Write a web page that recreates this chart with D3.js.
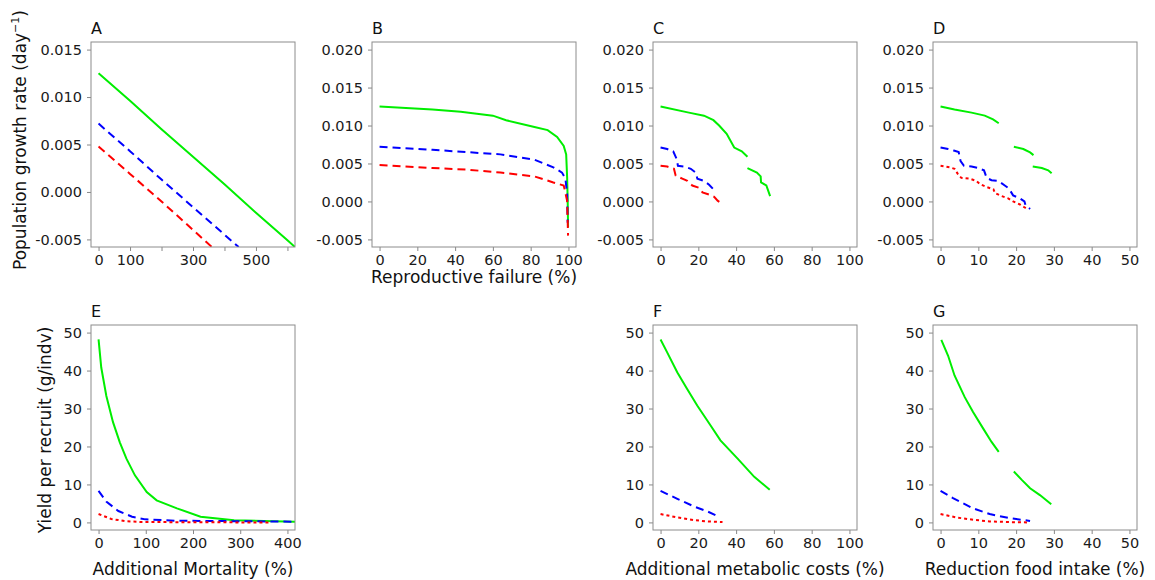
<!DOCTYPE html>
<html>
<head>
<meta charset="utf-8">
<script src="https://cdn.jsdelivr.net/npm/d3@7"></script>
<style>
  body { margin: 0; background: #fff; }
  svg text { font-family: "DejaVu Sans", Verdana, sans-serif; }
</style>
</head>
<body>
<div id="chart"></div>
<script>
// ---- data ----
// A: population growth rate vs additional mortality
const aGreenX = [0, 100, 200, 300, 400, 500, 600, 624];
const aGreenY = [0.0125, 0.0096, 0.0066, 0.0037, 0.0008, -0.0022, -0.0051, -0.0058];
const aBlueX = [0, 100, 200, 300, 400, 445];
const aBlueY = [0.0072, 0.0043, 0.0013, -0.0016, -0.0045, -0.0058];
const aRedX = [0, 100, 200, 300, 360];
const aRedY = [0.0048, 0.0019, -0.0010, -0.0040, -0.0058];

// B: reproductive failure
const bGreenX = [0, 28, 43, 60, 67, 82, 89, 94, 97.5, 98.8, 99.3, 99.6, 99.8];
const bGreenY = [0.0125, 0.0121, 0.0118, 0.0113, 0.0107, 0.0098, 0.0094, 0.0085, 0.0073, 0.0062, 0.0032, 0.0001, -0.0034];
const bBlueX = [0, 28, 46, 64, 82, 92, 96.6, 98.4, 99.3, 99.6];
const bBlueY = [0.0072, 0.0068, 0.0065, 0.0062, 0.0055, 0.0045, 0.0038, 0.0030, 0.0010, -0.0028];
const bRedX = [0, 28, 46, 64, 82, 92, 97.5, 99.3, 99.8];
const bRedY = [0.0048, 0.0044, 0.0042, 0.0038, 0.0033, 0.0025, 0.0021, 0.0001, -0.0045];

// C: additional metabolic costs (null = break in the line)
const cGreenX = [0, 15, 23, 28, 31, 35, 39, 43, 46, 46, 46, 51, 53, 53.2, 56, 58];
const cGreenY = [0.0125, 0.0117, 0.0113, 0.0107, 0.0100, 0.0089, 0.0071, 0.0066, 0.0059, null, 0.0044, 0.0038, 0.0033, 0.0025, 0.0021, 0.0007];
const cBlueX = [0, 3.5, 6.7, 8.5, 9.2, 12.4, 16, 18.6, 19.5, 23, 25.7, 28];
const cBlueY = [0.0071, 0.0069, 0.0066, 0.0056, 0.0047, 0.0046, 0.0043, 0.0038, 0.0030, 0.0027, 0.0022, 0.0016];
const cRedX = [0, 3.5, 7.1, 8, 11.5, 14.2, 16.8, 20.4, 22.2, 25.7, 28.4, 30.2, 33.3];
const cRedY = [0.0047, 0.0046, 0.0043, 0.0034, 0.0030, 0.0027, 0.0021, 0.0018, 0.0012, 0.0009, 0.0006, 0.0001, -0.0004];

// D: reduction food intake
const dGreenX = [0, 3.7, 8.2, 11.7, 13.9, 15.4, 17, 19.4, 21.9, 23.7, 24.6, 24.5, 24.4, 26.8, 28.5, 29.4];
const dGreenY = [0.0125, 0.0121, 0.0117, 0.0113, 0.0108, 0.0103, null, 0.0072, 0.0069, 0.00645, 0.0061, null, 0.0046, 0.0044, 0.0041, 0.0037];
const dBlueX = [0, 2, 3.5, 4.8, 5.3, 6.2, 8.2, 9.9, 11.5, 12.2, 13.5, 15.3, 17, 18.1, 19.2, 21, 22.2, 22.5, 23.7];
const dBlueY = [0.0071, 0.0069, 0.0067, 0.0065, 0.0053, 0.0047, 0.0046, 0.0044, 0.0041, 0.0031, 0.0028, 0.0027, 0.0021, 0.0017, 0.0008, 0.0004, 0.0000, -0.0005, -0.0010];
const dRedX = [0, 2.4, 3.7, 4.6, 5.5, 7.7, 9.5, 10.4, 12.2, 14, 14.4, 16.2, 17.9, 19.2, 21, 22.3, 23.2];
const dRedY = [0.0047, 0.0045, 0.0043, 0.0036, 0.0031, 0.0030, 0.0027, 0.0023, 0.0019, 0.0016, 0.0011, 0.0007, 0.0004, 0.0000, -0.0004, -0.0008, -0.0011];

// E: yield per recruit vs additional mortality
const eGreenX = [0, 5.7, 16.5, 30.6, 45, 59, 77, 102, 123, 166, 216, 287, 416];
const eGreenY = [48.2, 40.8, 33.3, 26.4, 21.1, 16.8, 12.4, 8.0, 5.8, 3.7, 1.5, 0.6, 0.2];
const eBlueX = [0, 17, 42, 71, 99, 163, 413];
const eBlueY = [8.3, 5.4, 3.0, 1.5, 0.8, 0.45, 0.2];
const eRedX = [0, 27, 56, 92, 306, 360];
const eRedY = [2.2, 0.9, 0.35, 0.1, 0.0, 0.0];

// F: yield vs additional metabolic costs
const fGreenX = [0, 3.5, 8.9, 14, 19.4, 26.4, 31.7, 40.8, 49.6, 57.8];
const fGreenY = [48.2, 44.8, 39.5, 35.2, 30.8, 25.6, 21.6, 16.8, 12.0, 8.6];
const fBlueX = [0, 8.9, 17.7, 24.8, 30];
const fBlueY = [8.3, 6.2, 4.2, 2.9, 1.7];
const fRedX = [0, 8.9, 17.7, 24.8, 32.8];
const fRedY = [2.2, 1.3, 0.6, 0.26, 0.08];

// G: yield vs reduction food intake
const gGreenX = [0.2, 2, 3.7, 6.4, 8.6, 11.3, 13.5, 15.4, 17, 19.4, 21.5, 23.7, 26.3, 29.3];
const gGreenY = [48.1, 43.9, 38.7, 33.0, 29.1, 24.7, 21.2, 18.6, null, 13.4, 11.2, 9.0, 7.2, 4.8];
const gBlueX = [0, 3.3, 8.6, 13, 18.4, 23.7];
const gBlueY = [8.3, 6.4, 3.7, 2.2, 1.1, 0.4];
const gRedX = [0, 4.2, 8.6, 13, 18.4, 23.2];
const gRedY = [2.2, 1.3, 0.7, 0.26, 0.08, 0.0];

// tick values
const ticksMort = [0, 100, 200, 300, 400, 500, 600];
const ticksMortLabelled = [0, 100, 300, 500];
const ticksPct100 = [0, 20, 40, 60, 80, 100];
const ticksPct50 = [0, 10, 20, 30, 40, 50];
const ticksYield = [0, 10, 20, 30, 40, 50];
const ticksRateA = [-0.005, 0, 0.005, 0.010, 0.015];
const ticksRate = [-0.005, 0, 0.005, 0.010, 0.015, 0.020];

// ---- layout ----
const width = 1155, height = 580;
const PW = 204, PH = 205;
const colLeft = [91, 372, 653, 933];
const rowTop = [42, 325];

const GREEN = "#00ee00", BLUE = "#0000ff", RED = "#ff0000";
const DASH = "8,5", DOT = "3,3";

const svg = d3.select("#chart").append("svg")
  .attr("width", width).attr("height", height);

const zip = (xs, ys) => xs.map((x, i) => [x, ys[i]]);
const fmt3 = d => d.toFixed(3);
const fmt0 = d => String(d);

const panels = [
  { id: "A", left: colLeft[0], top: rowTop[0], xd: [-24, 624], yd: [-0.0058, 0.0158],
    xt: ticksMort, xf: d => ticksMortLabelled.includes(d) ? d : "", yt: ticksRateA, yf: fmt3,
    series: [[aGreenX, aGreenY, GREEN, null], [aBlueX, aBlueY, BLUE, DASH], [aRedX, aRedY, RED, DASH]] },
  { id: "B", left: colLeft[1], top: rowTop[0], xd: [-4, 104], yd: [-0.006, 0.021],
    xt: ticksPct100, xf: fmt0, yt: ticksRate, yf: fmt3,
    series: [[bGreenX, bGreenY, GREEN, null], [bBlueX, bBlueY, BLUE, DASH], [bRedX, bRedY, RED, DASH]] },
  { id: "C", left: colLeft[2], top: rowTop[0], xd: [-4, 104], yd: [-0.006, 0.021],
    xt: ticksPct100, xf: fmt0, yt: ticksRate, yf: fmt3,
    series: [[cGreenX, cGreenY, GREEN, null], [cBlueX, cBlueY, BLUE, DASH], [cRedX, cRedY, RED, DASH]] },
  { id: "D", left: colLeft[3], top: rowTop[0], xd: [-2, 52], yd: [-0.006, 0.021],
    xt: ticksPct50, xf: fmt0, yt: ticksRate, yf: fmt3,
    series: [[dGreenX, dGreenY, GREEN, null], [dBlueX, dBlueY, BLUE, DASH], [dRedX, dRedY, RED, DOT]] },
  { id: "E", left: colLeft[0], top: rowTop[1], xd: [-16, 416], yd: [-2, 52],
    xt: [0, 100, 200, 300, 400], xf: fmt0, yt: ticksYield, yf: fmt0,
    series: [[eGreenX, eGreenY, GREEN, null], [eBlueX, eBlueY, BLUE, DASH], [eRedX, eRedY, RED, DOT]] },
  { id: "F", left: colLeft[2], top: rowTop[1], xd: [-4, 104], yd: [-2, 52],
    xt: ticksPct100, xf: fmt0, yt: ticksYield, yf: fmt0,
    series: [[fGreenX, fGreenY, GREEN, null], [fBlueX, fBlueY, BLUE, DASH], [fRedX, fRedY, RED, DOT]] },
  { id: "G", left: colLeft[3], top: rowTop[1], xd: [-2, 52], yd: [-2, 52],
    xt: ticksPct50, xf: fmt0, yt: ticksYield, yf: fmt0,
    series: [[gGreenX, gGreenY, GREEN, null], [gBlueX, gBlueY, BLUE, DASH], [gRedX, gRedY, RED, DOT]] }
];

panels.forEach(p => {
  const x = d3.scaleLinear().domain(p.xd).range([p.left, p.left + PW]);
  const y = d3.scaleLinear().domain(p.yd).range([p.top + PH, p.top]);
  const g = svg.append("g");

  g.append("clipPath").attr("id", "clip" + p.id)
    .append("rect").attr("x", p.left).attr("y", p.top).attr("width", PW).attr("height", PH);

  const line = d3.line()
    .defined(d => d[1] !== null)
    .x(d => x(d[0])).y(d => y(d[1]));

  // dashed/dotted drawn before solid green so green sits on top like the original
  g.selectAll("path.series")
    .data(p.series)
    .enter().append("path")
    .attr("class", "series")
    .attr("clip-path", `url(#clip${p.id})`)
    .attr("d", s => line(zip(s[0], s[1])))
    .attr("fill", "none")
    .attr("stroke", s => s[2])
    .attr("stroke-width", 2)
    .attr("stroke-dasharray", s => s[3]);

  const xAxis = g.append("g").attr("transform", `translate(0,${p.top + PH})`)
    .call(d3.axisBottom(x).tickValues(p.xt).tickFormat(p.xf).tickSize(4).tickPadding(4));
  const yAxis = g.append("g").attr("transform", `translate(${p.left},0)`)
    .call(d3.axisLeft(y).tickValues(p.yt).tickFormat(p.yf).tickSize(4).tickPadding(5));
  [xAxis, yAxis].forEach(a => {
    a.select(".domain").remove();
    a.selectAll("line").attr("stroke", "#888");
    a.selectAll("text").attr("font-size", "14.5px").attr("fill", "#1a1a1a")
      .attr("font-family", '"DejaVu Sans", Verdana, sans-serif');
  });

  g.append("rect")
    .attr("x", p.left).attr("y", p.top).attr("width", PW).attr("height", PH)
    .attr("fill", "none").attr("stroke", "#8c8c8c").attr("stroke-width", 1);

  g.append("text")
    .attr("x", p.left).attr("y", p.top - 8)
    .attr("font-size", "16px").attr("fill", "#111")
    .text(p.id);
});

// axis titles
const ylab1 = svg.append("text")
  .attr("transform", "translate(26,140) rotate(-90)")
  .attr("text-anchor", "middle").attr("font-size", "17px").attr("fill", "#111");
ylab1.append("tspan").text("Population growth rate (day");
ylab1.append("tspan").attr("font-size", "11px").attr("dy", "-7").text("−1");
ylab1.append("tspan").attr("dy", "7").text(")");

svg.append("text")
  .attr("transform", "translate(51,430) rotate(-90)")
  .attr("text-anchor", "middle").attr("font-size", "17px").attr("fill", "#111")
  .text("Yield per recruit (g/indv)");

const xTitles = [
  ["Reproductive failure (%)", colLeft[1] + PW / 2, 283],
  ["Additional Mortality (%)", 193, 575],
  ["Additional metabolic costs (%)", 755, 575],
  ["Reduction food intake (%)", 1035, 575]
];
svg.selectAll("text.xtitle")
  .data(xTitles)
  .enter().append("text")
  .attr("class", "xtitle")
  .attr("x", d => d[1]).attr("y", d => d[2])
  .attr("text-anchor", "middle").attr("font-size", "17px").attr("fill", "#111")
  .text(d => d[0]);
</script>
</body>
</html>
